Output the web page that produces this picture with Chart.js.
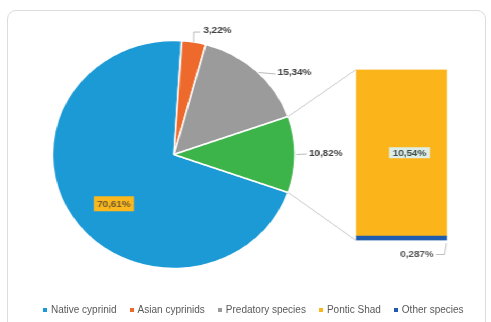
<!DOCTYPE html>
<html>
<head>
<meta charset="utf-8">
<script src="https://cdn.jsdelivr.net/npm/chart.js@4.4.0/dist/chart.umd.min.js"></script>
<style>
  html, body { margin: 0; padding: 0; background: #fff; }
  body { width: 491px; height: 322px; position: relative; overflow: hidden; font-family: 'Liberation Sans', Arial, sans-serif; }
  #card { position: absolute; left: 7px; top: 10px; width: 477px; height: 330px; border: 1px solid #dcdcdc; border-radius: 9px; }
  /* pie + bar drawn on a stage that is a bit wider than tall */
  #stage { position: absolute; left: 0; top: 0; width: 461px; height: 322px; transform: scaleX(1.065); transform-origin: 0 0; }
  #pieCanvas { position: absolute; left: 0; top: 0; }
  #barCanvas { position: absolute; left: 310px; top: 50px; }
  #legend { position: absolute; left: 43px; top: 304px; display: flex; font-size: 10px; line-height: 12px; color: #595959; white-space: nowrap; }
  .item { display: flex; align-items: center; margin-right: 13px; }
  .swatch { width: 4px; height: 4px; margin-right: 4px; }
</style>
</head>
<body>
<div id="card"></div>
<div id="stage">
  <canvas id="pieCanvas" width="461" height="322"></canvas>
  <canvas id="barCanvas" width="140" height="230"></canvas>
</div>
<div id="legend"></div>

<script>
// Pie: main groups, last slice is split out into the bar
const pieLabels = ['Native cyprinid', 'Asian cyprinids', 'Predatory species', 'Pontic Shad + Other species'];
const pieValues = [70.61, 3.22, 15.34, 10.82];
const pieColors = ['#1b9ad6', '#ee6a2c', '#9b9b9b', '#3db449'];

// Bar: breakdown of the split slice (bottom to top)
const barLabels = ['Other species', 'Pontic Shad'];
const barValues = [0.287, 10.54];
const barColors = ['#1f5cae', '#fbb51b'];

const legendLabels = ['Native cyprinid', 'Asian cyprinids', 'Predatory species', 'Pontic Shad', 'Other species'];
const legendColors = ['#1b9ad6', '#ee6a2c', '#9b9b9b', '#fbb51b', '#1f5cae'];

const pieTotal = pieValues.reduce((a, b) => a + b, 0);
const barTotal = barValues.reduce((a, b) => a + b, 0);
const labelFont = 'bold 9.3px "Liberation Sans", Arial, sans-serif';

function fmt(v) {
    return String(v).replace('.', ',') + '%';
}

// Build the legend
const legendEl = document.getElementById('legend');
legendLabels.forEach((name, i) => {
    const item = document.createElement('div');
    item.className = 'item';
    item.innerHTML = `<span class="swatch" style="background:${legendColors[i]}"></span><span>${name}</span>`;
    legendEl.appendChild(item);
});

// Labels on the bar
const barLabelPlugin = {
    id: 'barLabels',
    afterDatasetsDraw(chart) {
        const ctx = chart.ctx;
        const topEl = chart.getDatasetMeta(1).data[0];
        const bottomEl = chart.getDatasetMeta(0).data[0];
        ctx.save();
        ctx.font = labelFont;
        ctx.textAlign = 'center';
        ctx.textBaseline = 'middle';

        // Pontic Shad value in a light box
        const t1 = fmt(barValues[1]);
        const cx = topEl.x + 7.5;
        const cy = (topEl.y + topEl.base) / 2;
        const w1 = ctx.measureText(t1).width + 7;
        ctx.fillStyle = '#deede5';
        ctx.fillRect(cx - w1 / 2, cy - 5.5, w1, 11);
        ctx.fillStyle = '#3d4b4b';
        ctx.fillText(t1, cx, cy + 0.5);

        // Other species value under the bar, with a leader line
        const t2 = fmt(barValues[0]);
        const right = bottomEl.x + bottomEl.width / 2;
        const lx = bottomEl.x + 14.5;
        const ly = bottomEl.base + 14;
        ctx.fillStyle = '#595959';
        ctx.fillText(t2, lx, ly);
        const w2 = ctx.measureText(t2).width;
        ctx.strokeStyle = '#b0b0b0';
        ctx.lineWidth = 0.8;
        ctx.beginPath();
        ctx.moveTo(lx + w2 / 2 + 2, ly);
        ctx.lineTo(right - 2.5, ly);
        ctx.lineTo(right - 0.5, bottomEl.base + 2.5);
        ctx.stroke();
        ctx.restore();
    }
};

const barChart = new Chart(document.getElementById('barCanvas'), {
    type: 'bar',
    data: {
        labels: [''],
        datasets: barValues.map((v, i) => ({
            label: barLabels[i],
            data: [v],
            backgroundColor: barColors[i],
            borderWidth: 0,
            categoryPercentage: 1,
            barPercentage: 1
        }))
    },
    options: {
        responsive: false,
        animation: false,
        layout: { padding: { left: 24.3, right: 30.3, top: 19.5, bottom: 39.5 } },
        scales: {
            x: { display: false, stacked: true },
            y: { display: false, stacked: true, min: 0, max: barTotal }
        },
        plugins: { legend: { display: false }, tooltip: { enabled: false } }
    },
    plugins: [barLabelPlugin]
});

// point at fraction of the radius along a canvas angle
function polar(arc, frac, angle) {
    return { x: arc.x + arc.outerRadius * frac * Math.cos(angle), y: arc.y + arc.outerRadius * frac * Math.sin(angle) };
}

// Connector lines to the bar plus slice labels
const pieExtrasPlugin = {
    id: 'pieExtras',
    afterDatasetsDraw(chart) {
        const ctx = chart.ctx;
        const arcs = chart.getDatasetMeta(0).data;
        ctx.save();

        // connectors from the split slice to the bar corners
        const split = arcs[3];
        const barCanvas = barChart.canvas;
        const topEl = barChart.getDatasetMeta(1).data[0];
        const bottomEl = barChart.getDatasetMeta(0).data[0];
        const barLeft = barCanvas.offsetLeft + topEl.x - topEl.width / 2;
        const barTop = barCanvas.offsetTop + topEl.y;
        const barBottom = barCanvas.offsetTop + bottomEl.base;
        const s = polar(split, 1, split.startAngle);
        const e = polar(split, 1, split.endAngle);
        ctx.strokeStyle = '#c9c9c9';
        ctx.lineWidth = 1;
        ctx.beginPath();
        ctx.moveTo(s.x, s.y);
        ctx.lineTo(barLeft, barTop);
        ctx.moveTo(e.x, e.y);
        ctx.lineTo(barLeft, barBottom);
        ctx.stroke();

        ctx.font = labelFont;
        ctx.textBaseline = 'middle';
        ctx.strokeStyle = '#a8a8a8';
        ctx.lineWidth = 0.8;

        // Native cyprinid: boxed label inside the slice
        const nat = arcs[0];
        const np = polar(nat, 0.656, (nat.startAngle + nat.endAngle) / 2 - 7.8 * Math.PI / 180);
        const nt = fmt(pieValues[0]);
        const nw = ctx.measureText(nt).width + 6;
        ctx.fillStyle = '#fbb81e';
        ctx.fillRect(np.x - nw / 2, np.y - 7.5, nw, 15);
        ctx.fillStyle = '#6e5c30';
        ctx.textAlign = 'center';
        ctx.fillText(nt, np.x, np.y + 0.5);

        ctx.textAlign = 'left';
        ctx.fillStyle = '#404040';

        // Asian cyprinids: label above, elbow leader
        const as = arcs[1];
        const ap = polar(as, 1, (as.startAngle + as.endAngle) / 2);
        ctx.beginPath();
        ctx.moveTo(ap.x, ap.y);
        ctx.lineTo(ap.x, ap.y - 10);
        ctx.lineTo(ap.x + 6, ap.y - 10);
        ctx.stroke();
        ctx.fillText(fmt(pieValues[1]), ap.x + 9, ap.y - 12);

        // Predatory species
        const pr = arcs[2];
        const pp = polar(pr, 1, (pr.startAngle + pr.endAngle) / 2);
        ctx.beginPath();
        ctx.moveTo(pp.x + 2, pp.y + 1.5);
        ctx.lineTo(pp.x + 18, pp.y + 3);
        ctx.stroke();
        ctx.fillText(fmt(pieValues[2]), pp.x + 20, pp.y + 1.7);

        // split slice total
        const gp = polar(split, 1, (split.startAngle + split.endAngle) / 2);
        ctx.beginPath();
        ctx.moveTo(gp.x + 1, gp.y);
        ctx.lineTo(gp.x + 11, gp.y - 0.5);
        ctx.stroke();
        ctx.fillText(fmt(pieValues[3]), gp.x + 13, gp.y - 0.8);

        ctx.restore();
    }
};

const pieChart = new Chart(document.getElementById('pieCanvas'), {
    type: 'pie',
    data: {
        labels: pieLabels,
        datasets: [{
            data: pieValues,
            backgroundColor: pieColors,
            borderColor: '#ffffff',
            borderWidth: 1.5
        }]
    },
    options: {
        responsive: false,
        animation: false,
        // split slice centred on the right-hand side
        rotation: 90 + pieValues[3] / pieTotal * 180,
        layout: { padding: { left: 48.45, right: 183.05, top: 39.75, bottom: 52.75 } },
        plugins: { legend: { display: false }, tooltip: { enabled: false } }
    },
    plugins: [pieExtrasPlugin]
});
</script>
</body>
</html>
